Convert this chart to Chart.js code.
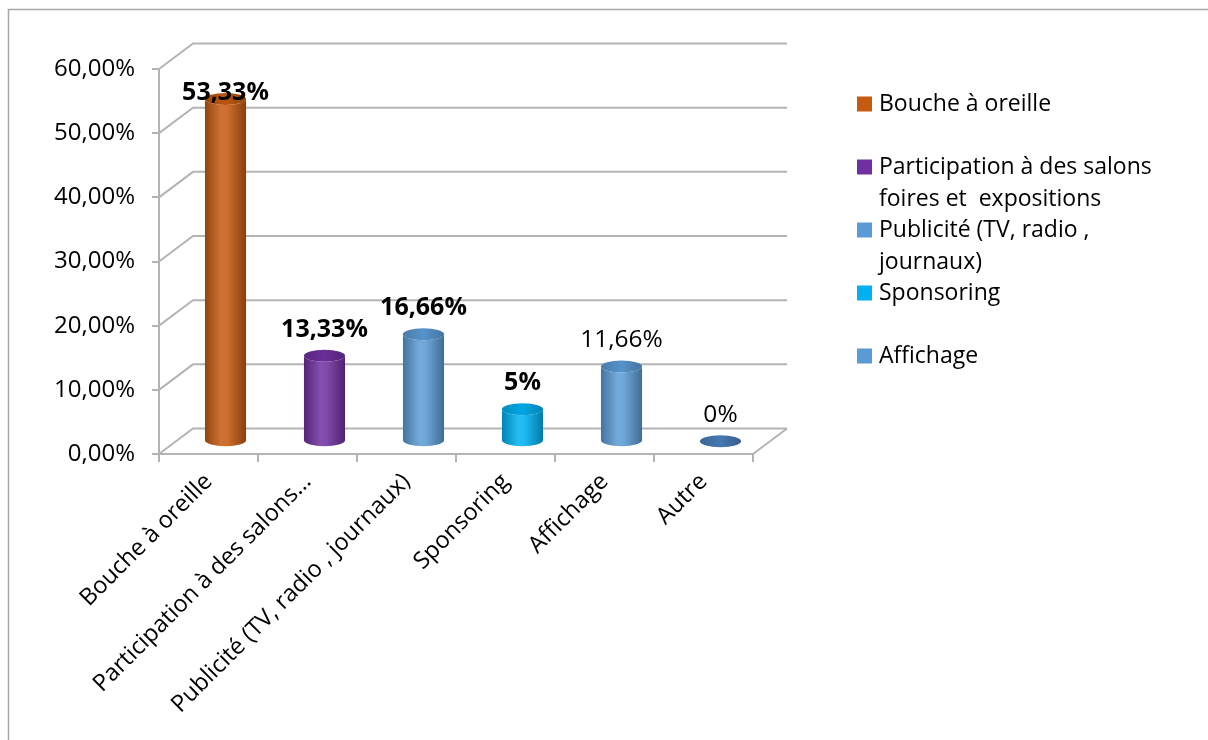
<!DOCTYPE html>
<html>
<head>
<meta charset="utf-8">
<script src="https://cdn.jsdelivr.net/npm/chart.js@4.4.0/dist/chart.umd.min.js"></script>
<style>
  body { margin: 0; background: #fff; }
  #wrap { width: 1208px; height: 740px; position: relative; }
</style>
</head>
<body>
<div id="wrap"><canvas id="chart"></canvas></div>
<script>
const tickLabels = [
  "Bouche à oreille",
  "Participation à des salons…",
  "Publicité (TV, radio , journaux)",
  "Sponsoring",
  "Affichage",
  "Autre"
];
const values = [53.33, 13.33, 16.66, 5, 11.66, 0];
const legendLabels = [
  ["Bouche à oreille"],
  ["Participation à des salons", "foires et  expositions"],
  ["Publicité (TV, radio ,", "journaux)"],
  ["Sponsoring"],
  ["Affichage"]
];

const barColors = ["#C55A11", "#7030A0", "#5B9BD5", "#00B0F0", "#5B9BD5", "#4A7EBB"];
const boldValue = [true, true, true, true, false, false];

const FONT = "'Open Sans', sans-serif";
const GRID = "#B4B4B4";
const DX = 34;      // depth of the 3d box
const DY = -25.5;

function shade(hex, p) {
  const n = parseInt(hex.slice(1), 16);
  let r = n >> 16, g = (n >> 8) & 255, b = n & 255;
  const t = p < 0 ? 0 : 255;
  const f = Math.abs(p);
  r = Math.round(r + (t - r) * f);
  g = Math.round(g + (t - g) * f);
  b = Math.round(b + (t - b) * f);
  return `rgb(${r},${g},${b})`;
}

function formatPct(v) {
  if (Number.isInteger(v)) return v + "%";
  return v.toFixed(2).replace(".", ",") + "%";
}

// outer frame of the chart object
const framePlugin = {
  id: "frame",
  beforeDraw(chart) {
    const ctx = chart.ctx;
    ctx.save();
    ctx.strokeStyle = "#A6A6A6";
    ctx.lineWidth = 1.5;
    ctx.beginPath();
    ctx.moveTo(8.5, chart.height);
    ctx.lineTo(8.5, 9.5);
    ctx.lineTo(chart.width, 9.5);
    ctx.stroke();
    ctx.restore();
  }
};

// side wall, back wall and floor lines
const wallsPlugin = {
  id: "walls",
  beforeDatasetsDraw(chart) {
    const ctx = chart.ctx;
    const a = chart.chartArea;
    const y = chart.scales.y;
    ctx.save();
    ctx.strokeStyle = GRID;
    ctx.lineWidth = 2;
    y.ticks.forEach(t => {
      const py = y.getPixelForValue(t.value);
      ctx.beginPath();
      ctx.moveTo(a.left, py);
      ctx.lineTo(a.left + DX, py + DY);
      ctx.lineTo(a.right + DX, py + DY);
      ctx.stroke();
    });
    ctx.beginPath();
    ctx.moveTo(a.right, a.bottom);
    ctx.lineTo(a.right + DX, a.bottom + DY);
    ctx.stroke();
    ctx.restore();
  }
};

function drawCylinder(ctx, cx, yTop, yBase, w, ry, color) {
  const left = cx - w / 2, right = cx + w / 2;
  const body = ctx.createLinearGradient(left, 0, right, 0);
  body.addColorStop(0, shade(color, -0.25));
  body.addColorStop(0.4, shade(color, 0.15));
  body.addColorStop(0.55, shade(color, 0.12));
  body.addColorStop(1, shade(color, -0.3));
  if (yBase - yTop > 0.5) {
    ctx.beginPath();
    ctx.moveTo(left, yTop);
    ctx.lineTo(left, yBase);
    ctx.ellipse(cx, yBase, w / 2, ry, 0, Math.PI, 0, true);
    ctx.lineTo(right, yTop);
    ctx.ellipse(cx, yTop, w / 2, ry, 0, 0, Math.PI, false);
    ctx.closePath();
    ctx.fillStyle = body;
    ctx.fill();
  }
  const top = ctx.createLinearGradient(left, 0, right, 0);
  top.addColorStop(0, shade(color, -0.2));
  top.addColorStop(0.5, shade(color, -0.05));
  top.addColorStop(1, shade(color, -0.25));
  ctx.beginPath();
  ctx.ellipse(cx, yTop, w / 2, ry, 0, 0, Math.PI * 2);
  ctx.fillStyle = top;
  ctx.fill();
}

const cylinderPlugin = {
  id: "cylinders",
  afterDatasetsDraw(chart) {
    const ctx = chart.ctx;
    const a = chart.chartArea;
    const meta = chart.getDatasetMeta(0);
    ctx.save();
    meta.data.forEach((el, i) => {
      const cx = el.x + DX / 2;
      const yTop = el.y + DY / 2;
      const yBase = el.base + DY / 2;
      drawCylinder(ctx, cx, yTop, yBase, el.width, 6, barColors[i]);

      ctx.fillStyle = "#000";
      ctx.textAlign = "center";
      ctx.textBaseline = "middle";
      ctx.font = (boldValue[i] ? "bold 25px " : "24.5px ") + FONT;
      const ly = Math.max(yTop - 26, a.top + 24);
      ctx.fillText(formatPct(values[i]), cx, ly);
    });
    ctx.restore();
  }
};

const legendPlugin = {
  id: "sideLegend",
  afterDraw(chart) {
    const ctx = chart.ctx;
    ctx.save();
    ctx.font = "23px " + FONT;
    ctx.textBaseline = "middle";
    ctx.textAlign = "left";
    legendLabels.forEach((lines, i) => {
      const y = 104 + i * 63;
      ctx.fillStyle = barColors[i];
      ctx.fillRect(857, y - 7.5, 15, 15);
      ctx.fillStyle = "#000";
      lines.forEach((t, j) => ctx.fillText(t, 879, y + j * 32));
    });
    ctx.restore();
  }
};

new Chart(document.getElementById("chart"), {
  type: "bar",
  data: {
    labels: tickLabels,
    datasets: [{
      data: values,
      backgroundColor: "rgba(0,0,0,0)",
      borderWidth: 0,
      categoryPercentage: 1,
      barPercentage: 0.415
    }]
  },
  options: {
    responsive: true,
    maintainAspectRatio: false,
    animation: false,
    layout: {
      autoPadding: false,
      padding: { left: 0, top: 69, right: 455, bottom: 0 }
    },
    plugins: {
      legend: { display: false },
      tooltip: { enabled: false }
    },
    scales: {
      x: {
        afterFit: s => { s.height = 286; },
        grid: {
          offset: true,
          drawOnChartArea: false,
          tickLength: 8,
          color: GRID,
          lineWidth: 2
        },
        border: { color: GRID, width: 2 },
        ticks: {
          autoSkip: false,
          minRotation: 45,
          maxRotation: 45,
          padding: 6,
          color: "#000",
          font: { family: FONT, size: 23.5 }
        }
      },
      y: {
        min: 0,
        max: 60,
        afterFit: s => { s.width = 159; },
        grid: {
          drawOnChartArea: false,
          tickLength: 7,
          color: GRID,
          lineWidth: 2
        },
        border: { color: GRID, width: 2 },
        ticks: {
          stepSize: 10,
          padding: 17,
          color: "#000",
          font: { family: FONT, size: 24 },
          callback: v => v.toFixed(2).replace(".", ",") + "%"
        }
      }
    }
  },
  plugins: [framePlugin, wallsPlugin, cylinderPlugin, legendPlugin]
});
</script>
</body>
</html>
